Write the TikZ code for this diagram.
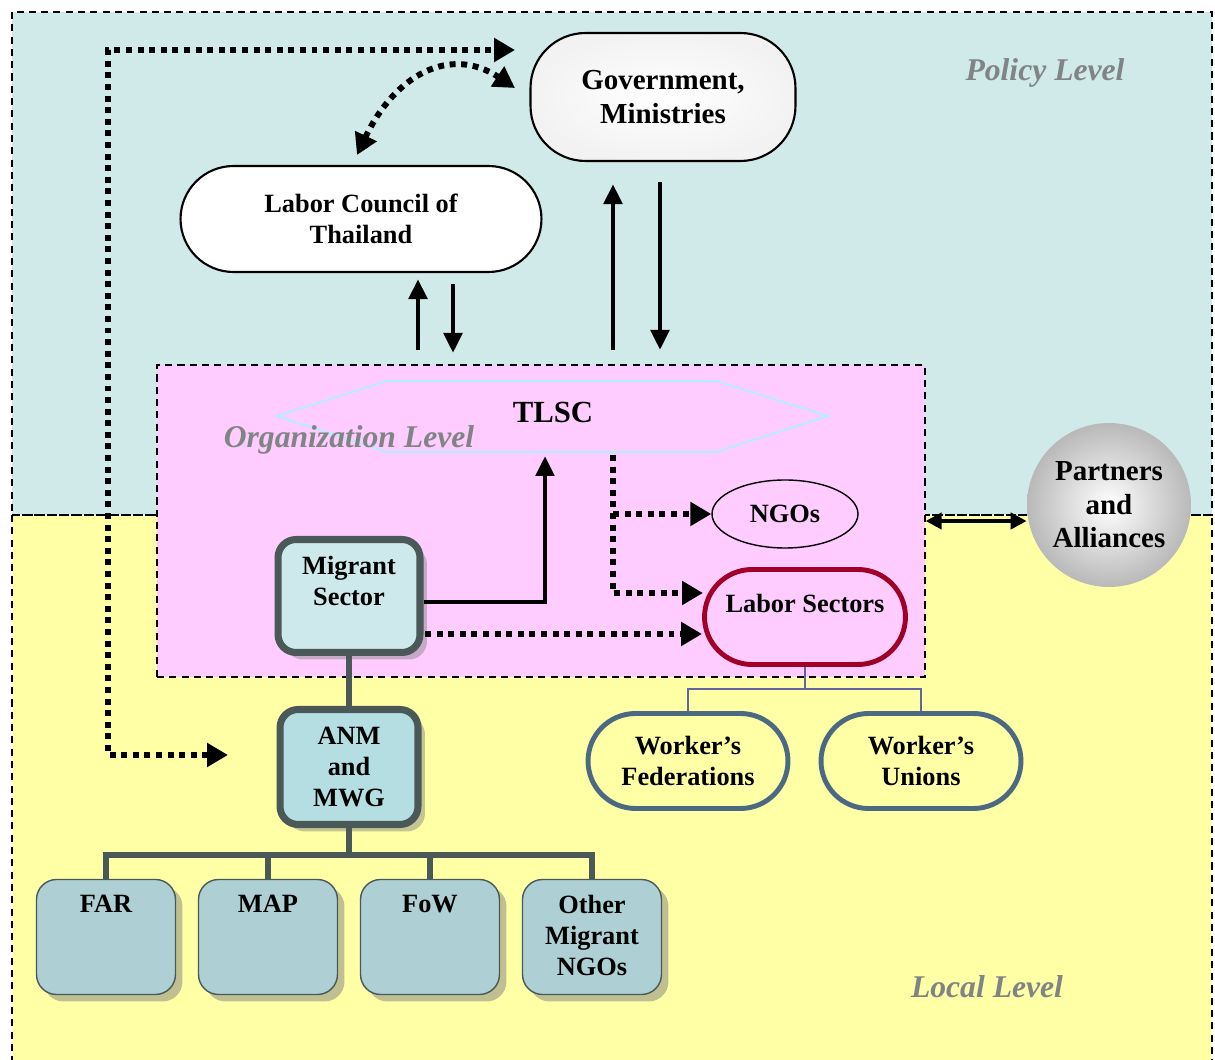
\documentclass[tikz,border=0pt]{standalone}
\usepackage{fontspec}
\setmainfont{Liberation Serif}
\usetikzlibrary{arrows.meta,shapes.geometric,shadows}

\definecolor{policybg}{RGB}{208,233,233}
\definecolor{localbg}{RGB}{255,255,165}
\definecolor{orgbg}{RGB}{255,204,255}
\definecolor{boxline}{RGB}{74,88,88}
\definecolor{migfill}{RGB}{205,233,235}
\definecolor{anmfill}{RGB}{180,222,226}
\definecolor{subfill}{RGB}{174,208,212}
\definecolor{labred}{RGB}{160,0,40}
\definecolor{wborder}{RGB}{75,105,130}
\definecolor{wlink}{RGB}{100,100,160}
\definecolor{hexline}{RGB}{175,240,250}
\definecolor{levelgray}{RGB}{128,132,132}

\tikzset{
  txt/.style={font=\bfseries\fontsize{15}{17.6}\selectfont, align=center},
  bigtxt/.style={font=\bfseries\fontsize{16.5}{19}\selectfont, align=center},
  levellabel/.style={font=\bfseries\itshape\fontsize{18}{21}\selectfont, text=levelgray},
  levelbox/.style={dashed, dash pattern=on 4pt off 3pt, line width=0.8pt},
  orgbox/.style={draw, levelbox, fill=orgbg, minimum width=15.36cm, minimum height=6.24cm},
  govbox/.style={bigtxt, draw, line width=1.2pt, rounded corners=1.1cm, inner color=white, outer color=gray!10,
    minimum width=5.3cm, minimum height=2.56cm},
  councilbox/.style={txt, draw, line width=1.2pt, fill=white, rounded corners=1.06cm,
    minimum width=7.22cm, minimum height=2.12cm},
  ngobox/.style={txt, draw, ellipse, line width=0.8pt, minimum width=2.92cm, minimum height=1.36cm},
  sectorbox/.style={draw=labred, line width=2.8pt, rounded corners=0.95cm, minimum width=4.02cm, minimum height=1.9cm},
  workerbox/.style={txt, draw=wborder, line width=2.8pt, rounded corners=0.95cm, minimum width=4cm, minimum height=1.9cm},
  migbox/.style={draw=boxline, line width=4pt, fill=migfill, rounded corners=0.36cm,
    minimum width=2.84cm, minimum height=2.26cm,
    drop shadow={shadow xshift=0.14cm, shadow yshift=-0.14cm, fill=gray, opacity=0.45}},
  anmbox/.style={txt, migbox, fill=anmfill, minimum width=2.76cm, minimum height=2.3cm},
  subbox/.style={draw=boxline, line width=0.8pt, fill=subfill, rounded corners=0.4cm,
    minimum width=2.78cm, minimum height=2.3cm,
    drop shadow={shadow xshift=0.14cm, shadow yshift=-0.14cm, fill=gray, opacity=0.5}},
  partnerball/.style={bigtxt, circle, inner color=white, outer color=gray!55, minimum size=3.28cm},
  treeline/.style={draw=boxline, line width=3.4pt},
  thinline/.style={draw=wlink, line width=0.9pt},
  arr/.style={line width=2.8pt, -{Triangle[length=0.4cm, width=0.36cm]}},
  dblarr/.style={line width=2.6pt, {Triangle[length=0.32cm, width=0.32cm]}-{Triangle[length=0.32cm, width=0.32cm]}},
  dotline/.style={line width=3.4pt, dash pattern=on 3.4pt off 3.2pt},
  dotarr/.style={dotline, -{Triangle[length=0.42cm, width=0.46cm]}},
  dotboth/.style={dotline, {Triangle[length=0.42cm, width=0.46cm]}-{Triangle[length=0.42cm, width=0.46cm]}}
}

\begin{document}
\begin{tikzpicture}[x=0.02cm, y=-0.02cm]
\useasboundingbox (0,0) rectangle (1215,1060);

% levels
\fill[policybg] (12,12) rectangle (1212,515);
\fill[localbg] (12,515) rectangle (1212,1070);
\draw[levelbox] (12,12) rectangle (1212,515);
\draw[levelbox] (12,515) rectangle (1212,1070);
\node[levellabel] (pollab) at (1045,73) {Policy Level};
\node[levellabel] (loclab) at (987,987) {Local Level};

% organization level
\node[orgbox] (org) at (541,521) {};
\draw[draw=hexline, line width=1pt] (277,416) -- (387,381) -- (716,381) -- (828,416) -- (716,452) -- (387,452) -- cycle;
\node[font=\bfseries\fontsize{17.5}{20}\selectfont] (tlsc) at (553,412) {TLSC};
\node[levellabel] (orglab) at (349,440) {Organization Level};

% policy nodes
\node[govbox] (gov) at (663,97) {Government,\\Ministries};
\node[councilbox] (lct) at (361,219) {Labor Council of\\Thailand};

% organization nodes
\node[ngobox] (ngos) at (785,514) {NGOs};
\node[sectorbox, label={[txt, yshift=0.28cm]center:Labor Sectors}] (labsec) at (805,617) {};
\node[migbox, label={[txt, yshift=0.3cm]center:{Migrant\\Sector}}] (migsec) at (349,596) {};

% local nodes
\node[anmbox] (anm) at (349,767) {ANM\\and\\MWG};
\node[subbox, label={[txt, anchor=north, yshift=-0.2cm]north:FAR}] (far) at (106,937) {};
\node[subbox, label={[txt, anchor=north, yshift=-0.2cm]north:MAP}] (map) at (268,937) {};
\node[subbox, label={[txt, anchor=north, yshift=-0.2cm]north:FoW}] (fow) at (430,937) {};
\node[subbox, label={[txt, anchor=north, yshift=-0.2cm]north:{Other\\Migrant\\NGOs}}] (other) at (592,937) {};
\node[workerbox] (wfed) at (688,761) {Worker’s\\Federations};
\node[workerbox] (wunion) at (921,761) {Worker’s\\Unions};
\node[partnerball] (partners) at (1109,505) {Partners\\and\\Alliances};

% tree of the migrant sector
\coordinate (split) at (349,855);
\draw[treeline] (migsec) -- (anm);
\draw[treeline] (anm.south) -- (split);
\draw[treeline] (far.north) |- (split) -| (other.north);
\draw[treeline] (map.north) -- (map.north |- split);
\draw[treeline] (fow.north) -- (fow.north |- split);

% labor sectors
\coordinate (wsplit) at (805,689);
\draw[thinline] (labsec.south) -- (wsplit);
\draw[thinline] (wfed.north) |- (wsplit) -| (wunion.north);

% arrows between levels
\coordinate (lup) at (418,350);
\coordinate (ldown) at (453,353);
\coordinate (gup) at (613,350);
\coordinate (gdown) at (660,350);
\draw[arr, shorten >=0.12cm] (lup) -- (lup |- lct.south);
\draw[arr, shorten <=0.22cm] (ldown |- lct.south) -- (ldown);
\draw[arr, shorten >=0.44cm] (gup) -- (gup |- gov.south);
\draw[arr, shorten <=0.4cm] (gdown |- gov.south) -- (gdown);

% dotted links
\coordinate (anmin) at (228,755);
\coordinate (corner) at (108,50);
\coordinate (govin) at (515,50);
\draw[dotboth] (anmin) -| (corner) -- (govin);
\coordinate (lctcurve) at (357,155);
\coordinate (govcurve) at (515,88);
\draw[dotboth] (lctcurve) .. controls (395,75) and (450,45) .. (govcurve);
\coordinate (tdot) at (613,455);
\coordinate (labin) at (703,593);
\draw[dotarr] (tdot) |- (labin);
\draw[dotarr] (tdot |- ngos.west) -- (ngos.west);
\coordinate (mdot) at (425,634);
\draw[dotarr] (mdot) -- (mdot -| labsec.west);

% migrant sector to TLSC
\coordinate (tin) at (545,456);
\draw[arr] ([yshift=-0.12cm]migsec.east) -| (tin);

% partners
\draw[dblarr] (org.east) -- (org.east -| partners.west);
\end{tikzpicture}
\end{document}
